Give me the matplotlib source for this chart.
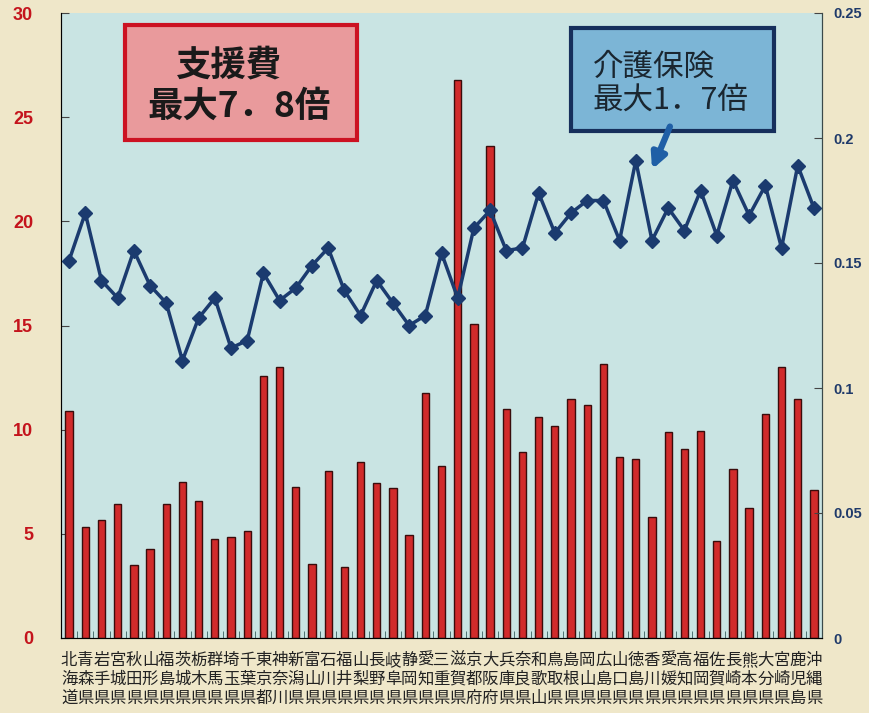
import numpy as np
import matplotlib.pyplot as plt
from matplotlib.patches import Rectangle, FancyArrowPatch

plt.rcParams['font.family'] = ['Noto Sans CJK JP', 'DejaVu Sans']

# prefecture names (first three characters, stacked vertically)
prefs = ["北海道", "青森県", "岩手県", "宮城県", "秋田県", "山形県", "福島県",
         "茨城県", "栃木県", "群馬県", "埼玉県", "千葉県", "東京都", "神奈川",
         "新潟県", "富山県", "石川県", "福井県", "山梨県", "長野県", "岐阜県",
         "静岡県", "愛知県", "三重県", "滋賀県", "京都府", "大阪府", "兵庫県",
         "奈良県", "和歌山", "鳥取県", "島根県", "岡山県", "広島県", "山口県",
         "徳島県", "香川県", "愛媛県", "高知県", "福岡県", "佐賀県", "長崎県",
         "熊本県", "大分県", "宮崎県", "鹿児島", "沖縄県"]

# 支援費 (left axis)
shien = [10.9, 5.33, 5.66, 6.43, 3.5, 4.27, 6.43, 7.5, 6.58, 4.75, 4.85, 5.15,
         12.58, 13.0, 7.25, 3.55, 8.0, 3.4, 8.45, 7.43, 7.2, 4.94, 11.77, 8.27,
         26.79, 15.07, 23.62, 10.98, 8.94, 10.62, 10.2, 11.47, 11.2, 13.15, 8.7,
         8.6, 5.8, 9.9, 9.07, 9.94, 4.66, 8.1, 6.24, 10.75, 13.0, 11.47, 7.12]

# 介護保険 (right axis)
kaigo = [0.151, 0.170, 0.143, 0.136, 0.155, 0.141, 0.134, 0.111, 0.128, 0.136,
         0.116, 0.119, 0.146, 0.135, 0.140, 0.149, 0.156, 0.139, 0.129, 0.143,
         0.134, 0.125, 0.129, 0.154, 0.136, 0.164, 0.171, 0.155, 0.156, 0.178,
         0.162, 0.170, 0.175, 0.175, 0.159, 0.191, 0.159, 0.172, 0.163, 0.179,
         0.161, 0.183, 0.169, 0.181, 0.156, 0.189, 0.172]

left_ticks = [0, 5, 10, 15, 20, 25, 30]
right_ticks = [0, 0.05, 0.1, 0.15, 0.2, 0.25]
right_labels = ["0", "0.05", "0.1", "0.15", "0.2", "0.25"]

W, H = 869, 713
fig = plt.figure(figsize=(W / 100, H / 100), dpi=100)
fig.patch.set_facecolor('#efe7c9')
ax = fig.add_axes([61 / W, 1 - 638 / H, (822 - 61) / W, (638 - 13) / H])
ax.set_facecolor('#c9e4e3')

x = np.arange(len(prefs))
ax.bar(x, shien, width=0.45, color='#d12b2b', edgecolor='#3a0c0c', linewidth=1.0, zorder=2)
ax.set_xlim(-0.4, len(prefs) - 0.6)
ax.set_ylim(0, 30)
ax.set_yticks(left_ticks)
ax.set_yticklabels([str(t) for t in left_ticks], family='Liberation Sans',
                   fontsize=13, fontweight='bold', color='#c4141c')
ax.tick_params(axis='y', direction='in', length=6, pad=20, color='#444444')

ax.set_xticks(x)
ax.set_xticklabels(["\n".join(p) for p in prefs], fontsize=11.8, color='#222222',
                   linespacing=1.15, va='top')
ax.tick_params(axis='x', length=0, pad=10)
ax.set_xticks(np.arange(-0.5, len(prefs)), minor=True)
ax.tick_params(axis='x', which='minor', direction='in', length=5, color='#3a6060')

ax.spines['top'].set_visible(False)
for s in ['left', 'right', 'bottom']:
    ax.spines[s].set_color('#3a4a4a')

ax2 = ax.twinx()
ax2.plot(x, kaigo, color='#1b3b6f', linewidth=2.5, marker='D', markersize=7,
         markerfacecolor='#1b3b6f', markeredgecolor='#1b3b6f', zorder=3)
ax2.set_ylim(0, 0.25)
ax2.set_yticks(right_ticks)
ax2.set_yticklabels(right_labels, family='Liberation Sans', fontsize=10.5,
                    fontweight='bold', color='#1f3a6a')
ax2.tick_params(axis='y', direction='in', length=6, pad=8, color='#444444')
ax2.spines['top'].set_visible(False)
ax2.spines['right'].set_color('#3a4a4a')


def fx(px):
    return px / W


def fy(py):
    return 1 - py / H


# red box
fig.patches.append(Rectangle((fx(125), fy(140)), fx(357) - fx(125), fy(25) - fy(140),
                             transform=fig.transFigure, facecolor='#e99a9c',
                             edgecolor='#cc1222', linewidth=3, zorder=5))
fig.text(fx(229), fy(65), "支援費", ha='center', va='center', fontsize=25.5,
         fontweight='bold', color='#1a1a1a', zorder=6)
fig.text(fx(239), fy(106), "最大7．8倍", ha='center', va='center', fontsize=25.5,
         fontweight='bold', color='#1a1a1a', zorder=6)

# blue box
fig.patches.append(Rectangle((fx(571), fy(131)), fx(774) - fx(571), fy(28) - fy(131),
                             transform=fig.transFigure, facecolor='#7cb5d6',
                             edgecolor='#162f5c', linewidth=3, zorder=5))
fig.text(fx(593), fy(67), "介護保険", ha='left', va='center', fontsize=22,
         color='#1a2630', zorder=6)
fig.text(fx(593), fy(101), "最大1．7倍", ha='left', va='center', fontsize=22,
         color='#1a2630', zorder=6)

fig.patches.append(FancyArrowPatch((fx(671), fy(124)), (fx(651), fy(172)),
                                   transform=fig.transFigure, arrowstyle='-|>',
                                   mutation_scale=22, linewidth=4.5,
                                   color='#1f5fa6', zorder=6))

fig.savefig('out.png', dpi=100, facecolor=fig.get_facecolor())
